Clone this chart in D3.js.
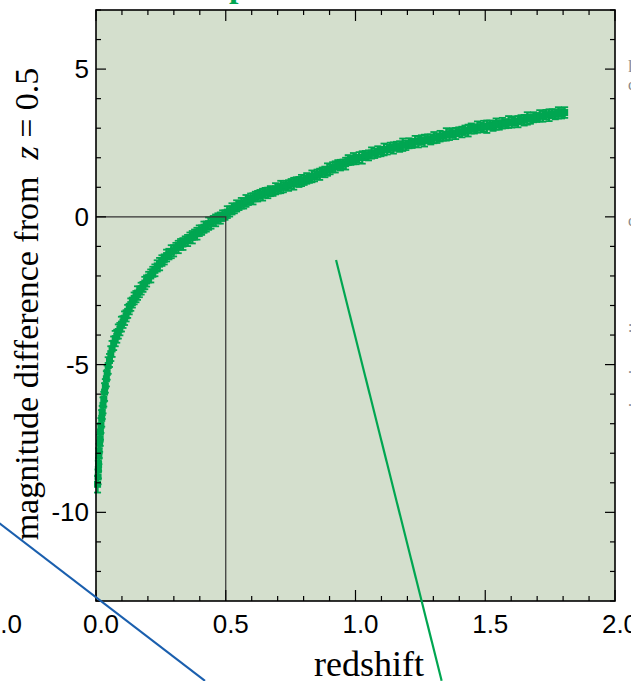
<!DOCTYPE html>
<html>
<head>
<meta charset="utf-8">
<script src="https://cdn.jsdelivr.net/npm/d3@7"></script>
<style>
  body { margin: 0; background: #fff; }
  svg { display: block; }
  .tick-label { font-family: "Liberation Sans", Arial, sans-serif; font-size: 26px; fill: #000; }
  .title { font-family: "Liberation Serif", "Times New Roman", serif; fill: #000; }
</style>
</head>
<body>
<svg id="svg" width="631" height="681"></svg>
<script>
// redshift of each supernova bin
var redshift = [
  0.006, 0.008, 0.009, 0.010, 0.011, 0.012, 0.014, 0.016, 0.017, 0.019,
  0.022, 0.024, 0.027, 0.030, 0.033, 0.036, 0.040, 0.043, 0.047, 0.052,
  0.057, 0.062, 0.068, 0.074, 0.080, 0.086, 0.092, 0.098, 0.104, 0.110,
  0.116, 0.122, 0.128, 0.134, 0.140, 0.147, 0.154, 0.160, 0.167, 0.174,
  0.181, 0.188, 0.195, 0.203, 0.211, 0.219, 0.227, 0.236, 0.245, 0.254,
  0.263, 0.272, 0.281, 0.290, 0.299, 0.308, 0.317, 0.326, 0.335, 0.344,
  0.353, 0.362, 0.371, 0.380, 0.389, 0.398, 0.407, 0.416, 0.425, 0.434,
  0.443, 0.452, 0.461, 0.470, 0.479, 0.488, 0.497, 0.506, 0.515, 0.524,
  0.533, 0.542, 0.551, 0.560, 0.569, 0.578, 0.587, 0.596, 0.605, 0.614,
  0.623, 0.632, 0.642, 0.652, 0.662, 0.672, 0.682, 0.692, 0.702, 0.712,
  0.722, 0.732, 0.742, 0.752, 0.762, 0.772, 0.782, 0.792, 0.802, 0.812,
  0.822, 0.832, 0.842, 0.852, 0.862, 0.872, 0.882, 0.892, 0.902, 0.912,
  0.922, 0.932, 0.942, 0.952, 0.962, 0.972, 0.982, 0.992, 1.002, 1.014,
  1.026, 1.038, 1.050, 1.062, 1.074, 1.086, 1.098, 1.110, 1.122, 1.134,
  1.146, 1.158, 1.170, 1.182, 1.194, 1.206, 1.218, 1.230, 1.242, 1.254,
  1.266, 1.278, 1.290, 1.302, 1.314, 1.326, 1.338, 1.350, 1.362, 1.374,
  1.386, 1.398, 1.410, 1.422, 1.434, 1.446, 1.458, 1.470, 1.482, 1.494,
  1.506, 1.518, 1.530, 1.542, 1.554, 1.566, 1.578, 1.590, 1.602, 1.614,
  1.626, 1.638, 1.650, 1.662, 1.674, 1.686, 1.698, 1.710, 1.722, 1.734,
  1.746, 1.758, 1.770, 1.782, 1.794, 1.806
];

// magnitude difference from z = 0.5
var magDiff = [
  -9.05, -8.80, -8.55, -8.38, -8.10, -7.92, -7.66, -7.52, -7.28, -7.06,
  -6.82, -6.62, -6.38, -6.17, -5.93, -5.72, -5.48, -5.27, -5.03, -4.86,
  -4.63, -4.47, -4.28, -4.12, -4.04, -3.88, -3.80, -3.63, -3.56, -3.43,
  -3.35, -3.20, -3.12, -2.97, -2.90, -2.76, -2.70, -2.58, -2.54, -2.43,
  -2.37, -2.24, -2.17, -2.04, -2.00, -1.86, -1.81, -1.66, -1.60, -1.48,
  -1.44, -1.31, -1.26, -1.18, -1.15, -1.05, -1.02, -0.93, -0.92, -0.82,
  -0.80, -0.71, -0.69, -0.60, -0.57, -0.47, -0.45, -0.35, -0.33, -0.23,
  -0.22, -0.13, -0.12, -0.05, -0.04, 0.04, 0.06, 0.16, 0.18, 0.27,
  0.28, 0.37, 0.38, 0.46, 0.45, 0.54, 0.55, 0.62, 0.61, 0.69,
  0.70, 0.76, 0.75, 0.82, 0.81, 0.87, 0.86, 0.95, 0.95, 1.01,
  1.00, 1.07, 1.06, 1.12, 1.12, 1.19, 1.18, 1.23, 1.24, 1.30,
  1.30, 1.37, 1.37, 1.44, 1.44, 1.52, 1.52, 1.60, 1.60, 1.68,
  1.69, 1.77, 1.75, 1.78, 1.80, 1.92, 1.91, 1.97, 1.94, 2.01,
  2.01, 2.08, 2.08, 2.16, 2.15, 2.21, 2.20, 2.28, 2.28, 2.35,
  2.33, 2.39, 2.38, 2.44, 2.42, 2.49, 2.48, 2.55, 2.53, 2.60,
  2.58, 2.64, 2.62, 2.68, 2.66, 2.73, 2.73, 2.79, 2.77, 2.84,
  2.82, 2.88, 2.87, 2.93, 2.92, 2.99, 2.97, 3.04, 3.02, 3.07,
  3.05, 3.11, 3.08, 3.14, 3.11, 3.17, 3.15, 3.21, 3.19, 3.24,
  3.22, 3.29, 3.27, 3.33, 3.31, 3.37, 3.36, 3.42, 3.40, 3.46,
  3.44, 3.49, 3.47, 3.52, 3.49, 3.53
];

// 1-sigma error of each bin
var magErr = [
  0.28, 0.25, 0.30, 0.22, 0.27, 0.24, 0.29, 0.23, 0.26, 0.25,
  0.28, 0.22, 0.27, 0.25, 0.30, 0.23, 0.26, 0.24, 0.28, 0.22,
  0.25, 0.27, 0.23, 0.26, 0.22, 0.24, 0.21, 0.25, 0.20, 0.23,
  0.19, 0.22, 0.18, 0.21, 0.17, 0.20, 0.19, 0.23, 0.18, 0.20,
  0.17, 0.21, 0.19, 0.18, 0.22, 0.17, 0.20, 0.19, 0.21, 0.18,
  0.17, 0.20, 0.18, 0.22, 0.19, 0.17, 0.21, 0.18, 0.20, 0.16,
  0.19, 0.18, 0.21, 0.17, 0.20, 0.18, 0.16, 0.19, 0.17, 0.21,
  0.18, 0.16, 0.20, 0.17, 0.19, 0.18, 0.16, 0.20, 0.17, 0.19,
  0.16, 0.19, 0.15, 0.18, 0.17, 0.20, 0.15, 0.17, 0.19, 0.16,
  0.18, 0.15, 0.20, 0.16, 0.18, 0.17, 0.15, 0.19, 0.16, 0.21,
  0.17, 0.15, 0.18, 0.16, 0.20, 0.15, 0.17, 0.19, 0.16, 0.18,
  0.15, 0.20, 0.17, 0.16, 0.19, 0.15, 0.18, 0.21, 0.16, 0.17,
  0.19, 0.15, 0.18, 0.16, 0.20, 0.17, 0.15, 0.19, 0.16, 0.18,
  0.21, 0.15, 0.17, 0.19, 0.16, 0.18, 0.15, 0.20, 0.17, 0.16,
  0.19, 0.15, 0.18, 0.21, 0.16, 0.17, 0.15, 0.19, 0.18, 0.16,
  0.20, 0.15, 0.17, 0.19, 0.16, 0.18, 0.15, 0.21, 0.17, 0.16,
  0.19, 0.15, 0.18, 0.16, 0.20, 0.17, 0.15, 0.19, 0.16, 0.18,
  0.21, 0.15, 0.17, 0.19, 0.16, 0.18, 0.15, 0.20, 0.17, 0.16,
  0.19, 0.15, 0.18, 0.21, 0.16, 0.17, 0.15, 0.19, 0.18, 0.16,
  0.20, 0.15, 0.17, 0.19, 0.16, 0.18
];

var xTicks = [0.0, 0.5, 1.0, 1.5, 2.0];
var yTicks = [-10, -5, 0, 5];

// guide box at z = 0.5, and the two connector lines that leave the panel
var guideZ = 0.5;
var connectors = [
  { color: "#1a5fae", from: [-0.372, -10.37], to: [0.42, -15.7] },
  { color: "#00a651", from: [0.925, -1.46], to: [1.332, -15.7] }
];

// bits of the neighbouring column's text, cut by the right edge
var edgeGlyphs = [
  { ch: "l", v: 4.9 }, { ch: "c", v: 4.3 }, { ch: "c", v: -0.3 },
  { ch: ":", v: -3.9 }, { ch: ".", v: -5.3 }, { ch: ".", v: -6.4 }
];

var svg = d3.select("#svg");
var margin = { left: 96, top: 10, right: 16, bottom: 80 };
var width = 631 - margin.left - margin.right,
    height = 681 - margin.top - margin.bottom;

var x = d3.scaleLinear().domain([0, 2]).range([margin.left, margin.left + width]);
var y = d3.scaleLinear().domain([-13, 7]).range([margin.top + height, margin.top]);

var green = "#00a651";

svg.append("rect")
  .attr("x", x(0)).attr("y", y(7))
  .attr("width", x(2) - x(0)).attr("height", y(-13) - y(7))
  .attr("fill", "#d4dfcd");

// points with error bars
var pts = svg.append("g").attr("stroke", green).attr("fill", green);
redshift.forEach(function(z, i) {
  var cx = x(z), m = magDiff[i], e = magErr[i];
  pts.append("line")
    .attr("x1", cx).attr("x2", cx)
    .attr("y1", y(m - e)).attr("y2", y(m + e))
    .attr("stroke-width", 2.2);
  [m - e, m + e].forEach(function(v) {
    pts.append("line")
      .attr("x1", cx - 3.5).attr("x2", cx + 3.5)
      .attr("y1", y(v)).attr("y2", y(v))
      .attr("stroke-width", 1.8);
  });
  pts.append("rect")
    .attr("x", cx - 3.5).attr("y", y(m) - 3.5)
    .attr("width", 7).attr("height", 7)
    .attr("stroke", "none");
});

// guide box
svg.append("path")
  .attr("d", "M" + x(0) + "," + y(0) + "H" + x(guideZ) + "V" + y(-13))
  .attr("fill", "none")
  .attr("stroke", "#333")
  .attr("stroke-width", 1.2);

// ticks on all four sides, pointing inward
var frame = svg.append("g").attr("stroke", "#000");
d3.range(0, 2.0001, 0.1).forEach(function(v) {
  var major = Math.abs(v * 2 - Math.round(v * 2)) < 1e-6;
  var len = major ? 11 : 5;
  frame.append("line").attr("x1", x(v)).attr("x2", x(v)).attr("y1", y(-13)).attr("y2", y(-13) - len).attr("stroke-width", 1.2);
  frame.append("line").attr("x1", x(v)).attr("x2", x(v)).attr("y1", y(7)).attr("y2", y(7) + len).attr("stroke-width", 1.2);
});
d3.range(-13, 7.0001, 1).forEach(function(v) {
  var major = v % 5 === 0;
  var len = major ? 10 : 5;
  frame.append("line").attr("x1", x(0)).attr("x2", x(0) + len).attr("y1", y(v)).attr("y2", y(v)).attr("stroke-width", 1.2);
  frame.append("line").attr("x1", x(2)).attr("x2", x(2) - len).attr("y1", y(v)).attr("y2", y(v)).attr("stroke-width", 1.2);
});
frame.append("rect")
  .attr("x", x(0)).attr("y", y(7))
  .attr("width", x(2) - x(0)).attr("height", y(-13) - y(7))
  .attr("fill", "none")
  .attr("stroke-width", 1.6);

// tick labels
svg.selectAll("text.xl").data(xTicks).enter().append("text")
  .attr("class", "tick-label")
  .attr("x", function(d) { return x(d) + 5; })
  .attr("y", 633)
  .attr("text-anchor", "middle")
  .text(function(d) { return d.toFixed(1); });

svg.selectAll("text.yl").data(yTicks).enter().append("text")
  .attr("class", "tick-label")
  .attr("x", 89)
  .attr("y", function(d) { return y(d) + 9; })
  .attr("text-anchor", "end")
  .text(function(d) { return d; });

// neighbouring panel's last label, cut by the edge
svg.append("text")
  .attr("class", "tick-label")
  .attr("x", 22).attr("y", 633)
  .attr("text-anchor", "end")
  .text("2.0");

svg.selectAll("text.edge").data(edgeGlyphs).enter().append("text")
  .attr("x", 628)
  .attr("y", function(d) { return y(d.v); })
  .style("font-family", "Liberation Serif, serif")
  .style("font-size", "16px")
  .attr("fill", "#888")
  .text(function(d) { return d.ch; });

// axis titles
svg.append("text")
  .attr("class", "title")
  .attr("x", 369).attr("y", 676)
  .attr("text-anchor", "middle")
  .style("font-size", "36px")
  .text("redshift");

var yt = svg.append("text")
  .attr("class", "title")
  .attr("transform", "translate(38,304) rotate(-90)")
  .attr("text-anchor", "middle")
  .style("font-size", "34px");
yt.append("tspan").text("magnitude difference from\u00a0\u00a0");
yt.append("tspan").style("font-style", "italic").text("z");
yt.append("tspan").text(" = 0.5");

// green panel title, only its descender shows above the frame
svg.append("text")
  .attr("x", 229).attr("y", -3)
  .style("font-family", "Liberation Serif, serif")
  .style("font-weight", "bold")
  .style("font-size", "34px")
  .attr("fill", green)
  .text("p");

// connector lines
connectors.forEach(function(c) {
  svg.append("line")
    .attr("x1", x(c.from[0])).attr("y1", y(c.from[1]))
    .attr("x2", x(c.to[0])).attr("y2", y(c.to[1]))
    .attr("stroke", c.color)
    .attr("stroke-width", 2.2);
});
</script>
</body>
</html>
